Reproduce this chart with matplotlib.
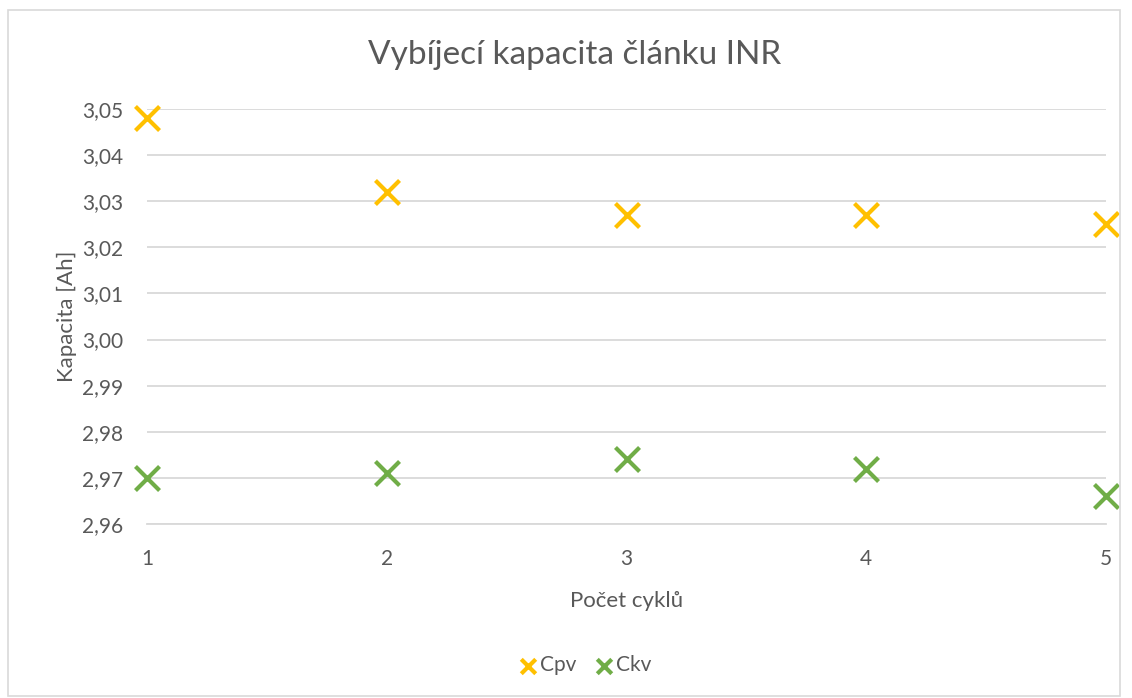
import matplotlib.pyplot as plt
from matplotlib.patches import Rectangle

plt.rcParams['font.family'] = ['Lato', 'DejaVu Sans']

# Data
cycles = [1, 2, 3, 4, 5]
cpv = [3.048, 3.032, 3.027, 3.027, 3.025]
ckv = [2.970, 2.971, 2.974, 2.972, 2.966]
y_ticks = [2.96, 2.97, 2.98, 2.99, 3.00, 3.01, 3.02, 3.03, 3.04, 3.05]

text_col = '#595959'
grid_col = '#d9d9d9'

fig = plt.figure(figsize=(11.32, 6.98), dpi=100)
ax = fig.add_axes([147 / 1132, 1 - 524 / 698, (1106 - 147) / 1132, (524 - 109) / 698])

ax.scatter(cycles, cpv, marker='x', s=300, linewidths=3, color='#FFC000', label='Cpv', clip_on=False, zorder=3)
ax.scatter(cycles, ckv, marker='x', s=300, linewidths=3, color='#70AD47', label='Ckv', clip_on=False, zorder=3)

ax.set_xlim(1, 5)
ax.set_ylim(2.96, 3.05)
ax.set_xticks(cycles)
ax.set_yticks(y_ticks)
ax.set_yticklabels([f'{v:.2f}'.replace('.', ',') for v in y_ticks])
ax.tick_params(length=0, labelsize=15, colors=text_col)
ax.tick_params(axis='y', pad=17)
ax.tick_params(axis='x', pad=18)
ax.grid(axis='y', color=grid_col, linewidth=1.3)
ax.set_axisbelow(True)
for s in ['top', 'right', 'left']:
    ax.spines[s].set_visible(False)
ax.spines['bottom'].set_color(grid_col)
ax.spines['bottom'].set_linewidth(1.3)

fig.text(575 / 1132, 1 - 55 / 698, 'Vybíjecí kapacita článku INR', fontsize=24, color=text_col,
         ha='center', va='center')
ax.set_xlabel('Počet cyklů', fontsize=16, color=text_col, labelpad=16)
ax.set_ylabel('Kapacita [Ah]', fontsize=16, color=text_col, labelpad=4)

fig.legend(loc='center', bbox_to_anchor=(582 / 1132, 1 - 665 / 698), ncol=2, frameon=False,
           fontsize=15, labelcolor=text_col, handletextpad=-0.2, columnspacing=0.6,
           handlelength=1.5, markerscale=0.6)

fig.patches.append(Rectangle((8 / 1132, 2 / 698), 1112 / 1132, 686 / 698, transform=fig.transFigure,
                             fill=False, edgecolor='#d9d9d9', linewidth=1.2))

fig.savefig('out.png', dpi=100)
